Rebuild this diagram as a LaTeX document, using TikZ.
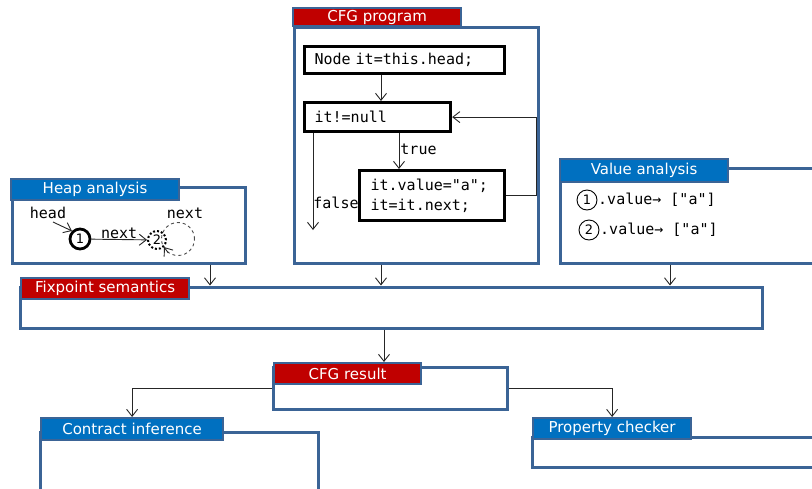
\documentclass[tikz,border=0pt]{standalone}
\usepackage{fontspec}
\setmainfont{DejaVu Sans}
\setmonofont{DejaVu Sans Mono}
\usetikzlibrary{arrows.meta,fit,calc}
\definecolor{boxline}{HTML}{3B6496}
\definecolor{tabblue}{HTML}{0070C0}
\definecolor{tabred}{HTML}{C00000}
\begin{document}
\begin{tikzpicture}[x=1pt,y=-1pt,
  mainbox/.style={draw=boxline,line width=3pt,fill=white,inner sep=0pt,rectangle},
  tabbox/.style={draw=boxline,line width=2.2pt,anchor=north west,inner sep=0pt,text=white,font=\fontsize{15}{17}\selectfont,minimum height=21pt},
  codebox/.style={draw=black,line width=3.2pt,anchor=north west,inner xsep=10pt,inner ysep=0pt,font=\ttfamily\fontsize{15}{20}\selectfont,align=left},
  lbl/.style={font=\ttfamily\fontsize{15}{17}\selectfont,inner sep=0pt},
  numc/.style={circle,draw,inner sep=0pt,font=\fontsize{13}{13}\selectfont},
  arr/.style={-{Straight Barb[length=7pt,width=11pt]},line width=0.9pt,draw=black!85}
]
\useasboundingbox (0,0) rectangle (812,488);
\clip (0,0) rectangle (812,488);

% main boxes
\node[mainbox,fit={(12,187)(245,263)}] (heap) {};
\node[mainbox,fit={(294,27)(538,263)}] (cfg) {};
\node[mainbox,fit={(560,168)(820,263)}] (val) {};
\node[mainbox,fit={(20,287)(762,328)}] (fix) {};
\node[mainbox,fit={(273,367)(507,409)}] (res) {};
\node[mainbox,fit={(40,432)(318,495)}] (con) {};
\node[mainbox,fit={(532,437)(820,467)}] (prop) {};

% tabs
\node[tabbox,fill=tabblue,minimum width=168pt] (heaptab) at (10,178) {Heap analysis};
\node[tabbox,fill=tabred,minimum width=168pt,minimum height=18pt] (cfgtab) at (292,7) {CFG program};
\node[tabbox,fill=tabblue,minimum width=168pt,minimum height=23pt] (valtab) at (559,158) {Value analysis};
\node[tabbox,fill=tabred,minimum width=168pt] (fixtab) at (20,277) {Fixpoint semantics};
\node[tabbox,fill=tabred,minimum width=147pt] (restab) at (273,362) {CFG result};
\node[tabbox,fill=tabblue,minimum width=182pt,minimum height=22pt] (contab) at (40,417) {Contract inference};
\node[tabbox,fill=tabblue,minimum width=158pt] (proptab) at (532,417) {Property checker};

% heap analysis content
\node[lbl] (headlbl) at (48,213) {head};
\node[numc,line width=2.8pt,minimum size=20pt] (h1) at (80,239) {1};
\node[numc,dotted,line width=2pt,minimum size=18pt] (h2) at (157,240) {2};
\node[circle,draw=black!70,dashed,line width=0.9pt,minimum size=33pt,inner sep=0pt] (hs) at (178,239) {};
\node[lbl] (next2) at (185,213) {next};
\draw[arr] ($(headlbl.south)+(5,3)$) -- (h1.north west);
\draw[arr] (h1) -- node[lbl,above=0pt] (next1) {next} (h2);
\draw[arr] (hs.235) -- (h2.315);

% CFG program content
\node[codebox,text width=180pt,minimum height=27pt] (n1) at (303,45) {Node it=this.head;};
\node[codebox,text width=126pt,minimum height=29pt] (n2) at (303,101) {it!=null};
\node[codebox,text width=123pt,minimum height=50pt,inner xsep=11pt] (body) at (358,169) {it.value="a";\\it=it.next;};
\coordinate (falseend) at (313,230);
\draw[arr] (381,0 |- n1.south) -- (381,0 |- n2.north);
\draw[arr] (399,0 |- n2.south) -- node[lbl,right=1pt,pos=0.45] (truelbl) {true} (399,0 |- body.north);
\draw[arr] (313,0 |- n2.south) -- (falseend);
\node[lbl] (falselbl) at (336,203) {false};
\draw[arr] (body.east) -- ++(30,0) |- (n2.east);

% value analysis content
\node[numc,line width=0.9pt,minimum size=20pt] (c1) at (587,200) {1};
\node[lbl,anchor=west] (v1) at (598,200) {.value→ ["a"]};
\node[numc,line width=0.9pt,minimum size=20pt] (c2) at (589,230) {2};
\node[lbl,anchor=west] (v2) at (600,230) {.value→ ["a"]};

% connectors
\draw[arr] (210,0 |- heap.south) -- (210,0 |- fix.north);
\draw[arr] (381,0 |- cfg.south) -- (381,0 |- fix.north);
\draw[arr] (670,0 |- val.south) -- (670,0 |- fix.north);
\draw[arr] (384,0 |- fix.south) -- (384,0 |- restab.north);
\draw[arr] (res.west) -| (contab.north);
\draw[arr] (res.east) -| (proptab.north);
\end{tikzpicture}
\end{document}
